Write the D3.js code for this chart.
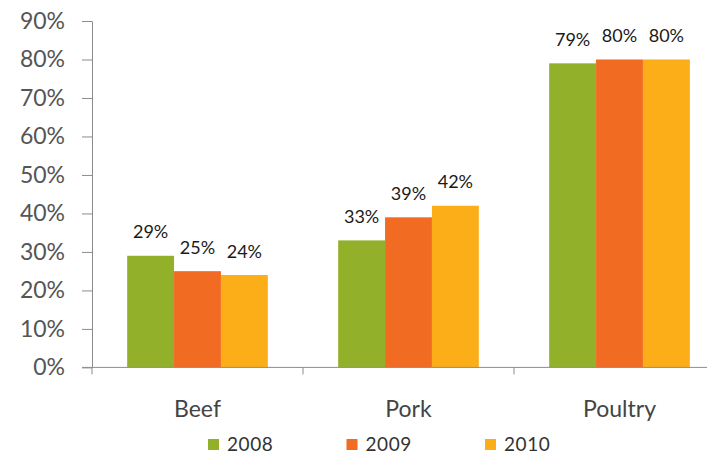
<!DOCTYPE html>
<html>
<head>
<meta charset="utf-8">
<script src="https://cdn.jsdelivr.net/npm/d3@7"></script>
<style>
	body { margin: 0; background: #fff; }
	svg { display: block; font-family: Lato, "Open Sans", sans-serif; }
</style>
</head>
<body>
<div id="chart"></div>
<script>
const categories = ['Beef', 'Pork', 'Poultry'];
const years = ['2008', '2009', '2010'];
const values2008 = [0.29, 0.33, 0.79];
const values2009 = [0.25, 0.39, 0.80];
const values2010 = [0.24, 0.42, 0.80];
const yTicks = [0, 0.1, 0.2, 0.3, 0.4, 0.5, 0.6, 0.7, 0.8, 0.9];
const colors = ['#93b02b', '#f26b22', '#fcae19'];

const width = 707, height = 455;
const margin = { top: 21, left: 92 };
const plotBottom = 367.4;
const plotRight = 725; // the plot runs past the right edge of the picture

const series = [values2008, values2009, values2010];

const svg = d3.select('#chart')
	.append('svg')
	.attr('width', width)
	.attr('height', height);

const x0 = d3.scaleBand()
	.domain(categories)
	.range([margin.left, plotRight]);

const x1 = d3.scaleBand()
	.domain(years)
	.range([0, x0.bandwidth()])
	.paddingOuter(0.75);

const y = d3.scaleLinear()
	.domain([0, 0.9])
	.range([plotBottom, margin.top]);

// bars
categories.forEach((cat, i) => {
	const g = svg.append('g').attr('transform', `translate(${x0(cat)},0)`);
	years.forEach((yr, j) => {
		const v = series[j][i];
		g.append('rect')
			.attr('x', x1(yr))
			.attr('y', y(v))
			.attr('width', x1.bandwidth())
			.attr('height', y(0) - y(v))
			.attr('fill', colors[j]);
		g.append('text')
			.attr('x', x1(yr) + x1.bandwidth() / 2)
			.attr('y', y(v) - 17.5)
			.attr('text-anchor', 'middle')
			.attr('font-size', 18)
			.attr('fill', '#1a1a1a')
			.text(d3.format('.0%')(v));
	});
});

// y axis
const yAxis = d3.axisLeft(y)
	.tickValues(yTicks)
	.tickFormat(d3.format('.0%'))
	.tickSize(10)
	.tickPadding(17)
	.tickSizeOuter(0);

const yg = svg.append('g')
	.attr('transform', `translate(${margin.left},0)`)
	.call(yAxis);
yg.select('.domain').attr('stroke', '#8c8c8c');
yg.selectAll('.tick line').attr('stroke', '#8c8c8c');
yg.selectAll('.tick text')
	.attr('font-size', 23)
	.attr('font-family', 'Lato, sans-serif')
	.attr('fill', '#555');

// x axis line and category boundary ticks
svg.append('line')
	.attr('x1', margin.left - 10)
	.attr('x2', plotRight)
	.attr('y1', y(0))
	.attr('y2', y(0))
	.attr('stroke', '#8c8c8c');

svg.selectAll('.cat-tick')
	.data(categories.concat(['end']))
	.enter()
	.append('line')
	.attr('class', 'cat-tick')
	.attr('x1', (d, i) => margin.left + i * x0.step())
	.attr('x2', (d, i) => margin.left + i * x0.step())
	.attr('y1', y(0))
	.attr('y2', y(0) + 7)
	.attr('stroke', '#8c8c8c');

const xAxis = d3.axisBottom(x0).tickSize(0).tickPadding(0);
const xg = svg.append('g')
	.attr('transform', `translate(0,${plotBottom})`)
	.call(xAxis);
xg.select('.domain').remove();
xg.selectAll('.tick text')
	.attr('dy', 0)
	.attr('y', 49.5)
	.attr('font-size', 23)
	.attr('font-family', 'Lato, sans-serif')
	.attr('fill', '#444');

// legend
const legend = svg.append('g').attr('transform', 'translate(208,439)');
years.forEach((yr, j) => {
	const item = legend.append('g').attr('transform', `translate(${j * 138.5},0)`);
	item.append('rect')
		.attr('width', 11)
		.attr('height', 11)
		.attr('fill', colors[j]);
	item.append('text')
		.attr('x', 19)
		.attr('y', 12)
		.attr('font-size', 19)
		.attr('letter-spacing', 0.6)
		.attr('fill', '#333')
		.text(yr);
});
</script>
</body>
</html>
